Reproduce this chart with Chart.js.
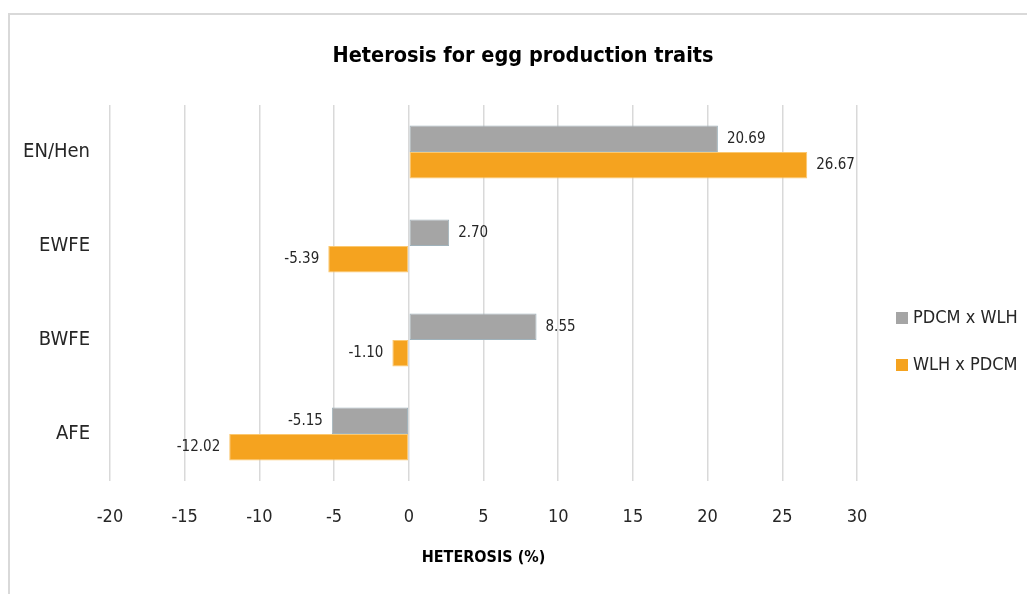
<!DOCTYPE html>
<html>
<head>
<meta charset="utf-8">
<script src="https://cdn.jsdelivr.net/npm/chart.js@4/dist/chart.umd.min.js"></script>
<style>
  body { margin: 0; background: #fff; }
  #wrap { position: relative; width: 1027px; height: 594px; overflow: hidden; }
  #frame { position: absolute; left: 8px; top: 13px; width: 1100px; height: 700px;
           border-left: 2px solid #d9d9d9; border-top: 2px solid #d9d9d9; pointer-events: none; }
  canvas { position: absolute; left: 0; top: 0; }
</style>
</head>
<body>
<div id="wrap">
  <canvas id="heterosisChart" width="1027" height="594"></canvas>
  <div id="frame"></div>
</div>
<script>
// Chart data
const chartTitle = 'Heterosis for egg production traits';
const traits = ['EN/Hen', 'EWFE', 'BWFE', 'AFE'];
const pdcmXwlh = [20.69, 2.70, 8.55, -5.15];
const wlhXpdcm = [26.67, -5.39, -1.10, -12.02];
const xTicks = [-20, -15, -10, -5, 0, 5, 10, 15, 20, 25, 30];

const FONT = "'Liberation Sans Narrow', 'DejaVu Sans Condensed', 'Arial Narrow', sans-serif";
const TEXT = '#262626';

// title centred on the whole frame, not just the plot
const frameTitle = {
  id: 'frameTitle',
  afterDraw(chart) {
    const ctx = chart.ctx;
    ctx.save();
    ctx.font = `bold 21.5px ${FONT}`;
    ctx.fillStyle = '#000';
    ctx.textAlign = 'center';
    ctx.textBaseline = 'middle';
    ctx.fillText(chartTitle, 523, 56);
    ctx.restore();
  }
};

// value labels next to each bar
const valueLabels = {
  id: 'valueLabels',
  afterDatasetsDraw(chart) {
    const ctx = chart.ctx;
    ctx.save();
    ctx.font = `15px ${FONT}`;
    ctx.fillStyle = TEXT;
    ctx.textBaseline = 'middle';
    chart.data.datasets.forEach((ds, i) => {
      chart.getDatasetMeta(i).data.forEach((bar, j) => {
        const v = ds.data[j];
        if (v >= 0) {
          ctx.textAlign = 'left';
          ctx.fillText(v.toFixed(2), bar.x + 9, bar.y);
        } else {
          ctx.textAlign = 'right';
          ctx.fillText(v.toFixed(2), bar.x - 9, bar.y);
        }
      });
    });
    ctx.restore();
  }
};

// legend on the right, one entry per row
const sideLegend = {
  id: 'sideLegend',
  afterDraw(chart) {
    const ctx = chart.ctx;
    ctx.save();
    ctx.font = `18px ${FONT}`;
    ctx.textBaseline = 'middle';
    ctx.textAlign = 'left';
    chart.data.datasets.forEach((ds, i) => {
      const y = 318 + i * 47;
      ctx.fillStyle = ds.backgroundColor;
      ctx.fillRect(896, y - 6, 12, 12);
      ctx.fillStyle = TEXT;
      ctx.fillText(ds.label, 913, y);
    });
    ctx.restore();
  }
};

new Chart(document.getElementById('heterosisChart'), {
  type: 'bar',
  data: {
    labels: traits,
    datasets: [
      {
        label: 'PDCM x WLH',
        data: pdcmXwlh,
        backgroundColor: '#a5a5a5',
        borderColor: '#9fb2bb',
        borderWidth: 1,
        borderSkipped: false
      },
      {
        label: 'WLH x PDCM',
        data: wlhXpdcm,
        backgroundColor: '#f5a31f',
        borderColor: '#fbc870',
        borderWidth: 1,
        borderSkipped: false
      }
    ]
  },
  options: {
    indexAxis: 'y',
    responsive: false,
    animation: false,
    devicePixelRatio: 1,
    layout: { padding: { top: 105, right: 170, bottom: 0, left: 0 } },
    datasets: { bar: { categoryPercentage: 0.565, barPercentage: 1.0 } },
    plugins: {
      legend: { display: false },
      tooltip: { enabled: false },
      title: { display: false }
    },
    scales: {
      x: {
        min: -20,
        max: 30,
        afterBuildTicks: (scale) => { scale.ticks = xTicks.map(v => ({ value: v })); },
        afterFit: (scale) => { scale.height = 113; },
        grid: { color: '#d9d9d9', lineWidth: 1.5, drawTicks: false },
        border: { display: false },
        ticks: { color: TEXT, font: { family: FONT, size: 18 }, padding: 26 },
        title: {
          display: true,
          text: 'HETEROSIS (%)',
          color: '#000',
          font: { family: FONT, size: 16, weight: 'bold' },
          padding: { top: 0, bottom: 27 }
        }
      },
      y: {
        afterFit: (scale) => { scale.width = 110; },
        grid: { display: false, drawTicks: false },
        border: { display: false },
        ticks: { color: TEXT, font: { family: FONT, size: 20 }, padding: 20 }
      }
    }
  },
  plugins: [valueLabels, sideLegend, frameTitle]
});
</script>
</body>
</html>
